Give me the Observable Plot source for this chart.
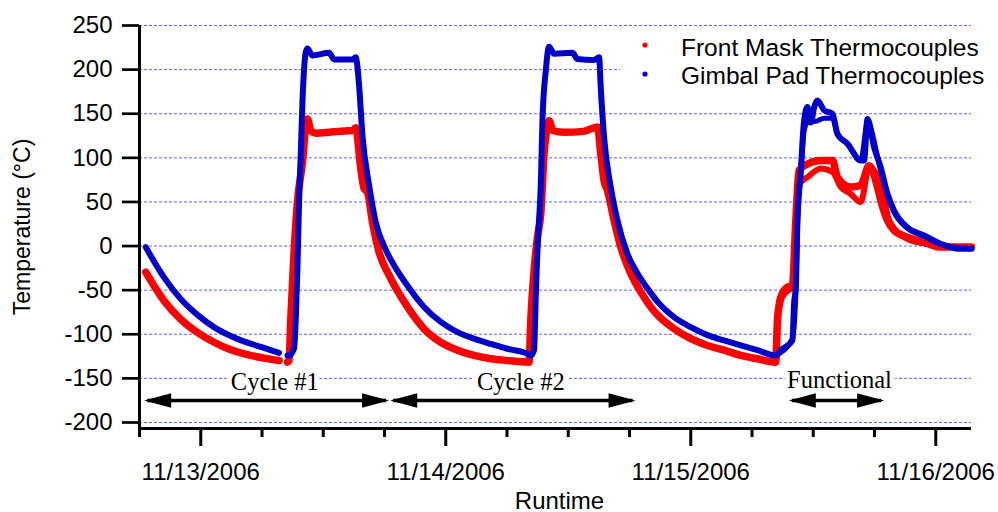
<!DOCTYPE html>
<html><head><meta charset="utf-8">
<script src="https://cdn.jsdelivr.net/npm/d3@7"></script>
<script src="https://cdn.jsdelivr.net/npm/@observablehq/plot@0.6"></script>
<style>
body{margin:0;background:#fff;}
#wrap{position:relative;width:998px;height:512px;overflow:hidden;}
#legend{position:absolute;left:620px;top:32px;}
</style></head><body>
<div id="wrap"></div>
<script>
// Hours since 11/13/2006 00:00, temperatures in °C (NaN = gap in record)
const frontA_hours = [-5.39,-3.60,-1.96,-0.32,1.30,2.94,4.57,6.20,7.67,8.0,8.49,8.65,8.82,9.14,9.47,9.96,10.29,10.45,10.78,11.27,12.57,13.5,14.86,15.18,15.67,16.0,16.33,16.82,17.47,18.44,20.25,21.87,23.51,25.15,26.77,28.41,30.04,32.16,32.33,32.65,32.98,33.31,33.63,33.96,34.12,34.5,35.59,37.5,38.86,39.18,39.51,39.84,40.49,41.14,42.12,43.10,44.08,44.74,46.37,48.0,49.63,51.26,52.90,54.53,56.33,56.49,56.82,57.47,57.96,58.29,58.61,59.43,60.73,61.88,62.37,63.67,64.65,65.47,66.29,66.61,67.27,67.92,69.23,70.86,72.49,75.5];
const frontA_temps = [-29.6,-62,-83,-98,-109,-117.5,-123,-127,-129.7,NaN,-131.6,-130,-82,-7,50,95,137,144,131,128,129,130,131,134,88,65,61,27,-7,-33,-69,-93.8,-109,-118,-124,-127.8,-129.7,-131.6,-84,-28,10,37,105,135,142,131,129,130,135,105,74,63,29,-1,-31,-52,-69,-78,-93.8,-105,-112.7,-118,-124,-127.8,-131.6,-84,-58,-46.6,-44.7,29,86,93,97,97,78,67,69,91,67,52,29,17.7,10,4.4,-1.2,-1];
const frontB_hours = [56.33,56.6,57.0,57.6,57.96,58.29,58.61,59.43,60.73,61.88,62.69,63.67,64.65,65.47,66.61,66.94,67.27,67.92,69.23,70.86,72.49,75.5];
const frontB_temps = [-131,-75,-57,-50,-47,20,70,78,88,84,67,59,50,89,71,55,35,20,8,3,-1,-1];
const gimbalA_hours = [-5.39,-3.60,-1.96,-0.32,1.30,2.94,4.57,6.20,7.67,8.0,8.49,8.65,9.14,9.31,9.47,9.63,9.80,9.96,10.29,10.45,10.94,12.57,13.06,14.86,15.18,15.51,15.84,16.49,17.14,18.12,19.10,20.25,21.87,23.51,25.15,26.77,28.41,30.04,32.0,32.33,32.65,32.82,32.98,33.14,33.31,33.47,33.80,34.12,34.61,36.41,36.90,38.53,39.02,39.18,39.51,40.16,40.82,41.80,42.78,44.08,44.74,46.37,48.0,49.63,51.26,52.90,54.53,56.33,56.82,57.96,58.12,58.29,58.45,58.78,59.10,59.43,59.76,60.1,60.41,61.06,61.88,62.37,63.35,64.65,64.98,65.31,65.96,66.61,67.27,67.92,69.23,70.86,72.49,74.13,75.5];
const gimbalA_temps = [-1.2,-35.5,-60,-78,-91.9,-102,-109.5,-115.5,-121,NaN,-124,-124,-116,-82,-26,50,106,163,220,224,216,219,211.6,211.6,214,182,125,69,27,-4,-25,-45,-69,-86,-97.6,-105,-111,-116.4,-122,-124,-118,-55,-5,29,70,142,199,226,218,219,212,211,214,180,123,67,29,-9,-31,-53,-63,-80.6,-92,-101,-107,-112.7,-118,-124,-118,-107,-65,-46.6,29,86,142,157.5,140,158,165,154,150,127,116,97,97,144,112,89,59,40,21,12,2.6,-3,-3];
const gimbalB_hours = [56.33,57.96,58.29,58.45,58.78,59.10,59.43,60.41,61.06,61.88,62.37,63.35,64.65,65.31,66.61,67.27,67.92,69.23,70.86,72.49,75.5];
const gimbalB_temps = [-124,-105,-55,20,80,130,140,142,145,145,127,116,97,140,85,57,38,20,11,2,-3];

const seriesNames = ["Front Mask Thermocouples", "Gimbal Pad Thermocouples"];
const seriesColors = ["#ff0000", "#0000c8"];
const yTicks = [-200,-150,-100,-50,0,50,100,150,200,250];
const phaseLabels = ["Cycle #1", "Cycle #2", "Functional"];
const phaseStart = [-5.25, 18.85, 57.9];
const phaseEnd = [18.15, 42.3, 66.65];
const phaseLabelHour = [7.25, 31.35, 62.57];
const phaseLabelTemp = [-163.5, -163.5, -160.5];
const phaseArrowTemp = -175;

const t0 = Date.UTC(2006, 10, 13);
const toTime = h => new Date(t0 + h * 3600000);
const rows = (hours, temps) => hours.map((h, i) => ({time: toTime(h), temp: temps[i]}));

const xDomain = [toTime(-6), toTime(75.5)];
const majorTicks = d3.utcDay.range(toTime(0), toTime(75.5));
const minorTicks = d3.utcHour.every(6).range(toTime(-6), toTime(75.5)).filter(d => d.getUTCHours() !== 0);

const phases = phaseLabels.map((l, i) => ({
  label: l, start: toTime(phaseStart[i]), end: toTime(phaseEnd[i]),
  lx: toTime(phaseLabelHour[i]), ly: phaseLabelTemp[i], y: phaseArrowTemp
}));

const headRight = {draw(ctx) { ctx.moveTo(3, 0); ctx.lineTo(-24, -7.2); ctx.lineTo(-24, 7.2); ctx.closePath(); }};
const headLeft = {draw(ctx) { ctx.moveTo(-3, 0); ctx.lineTo(24, -7.2); ctx.lineTo(24, 7.2); ctx.closePath(); }};

const lineOpts = (color, w) => ({x: "time", y: "temp", stroke: color, strokeWidth: w, curve: "monotone-x", strokeLinejoin: "round", strokeLinecap: "round"});

const chart = Plot.plot({
  width: 998, height: 512,
  marginLeft: 139, marginRight: 27, marginTop: 25, marginBottom: 84,
  style: {fontFamily: "'Liberation Sans', Arial, sans-serif", fontSize: "24px", color: "black", background: "white", overflow: "visible"},
  x: {type: "utc", domain: xDomain},
  y: {domain: [-206.8, 250]},
  marks: [
    Plot.ruleY(yTicks, {stroke: "#6262ff", strokeWidth: 1, strokeDasharray: "3,2"}),
    Plot.line(rows(frontA_hours, frontA_temps), lineOpts(seriesColors[0], 7.5)),
    Plot.line(rows(frontB_hours, frontB_temps), lineOpts(seriesColors[0], 6)),
    Plot.line(rows(gimbalA_hours, gimbalA_temps), lineOpts(seriesColors[1], 6)),
    Plot.line(rows(gimbalB_hours, gimbalB_temps), lineOpts(seriesColors[1], 5)),
    Plot.text(phases, {x: "lx", y: "ly", text: "label", lineAnchor: "bottom", textAnchor: "middle",
      fontFamily: "'Liberation Serif', 'Times New Roman', serif", fontSize: 24.5, fill: "black", stroke: "white", strokeWidth: 10, paintOrder: "stroke"}),
    Plot.link(phases, {x1: "start", x2: "end", y1: "y", y2: "y", stroke: "black", strokeWidth: 3.5}),
    Plot.dot(phases, {x: "end", y: "y", symbol: headRight, fill: "black", r: 5}),
    Plot.dot(phases, {x: "start", y: "y", symbol: headLeft, fill: "black", r: 5}),
    Plot.axisY({ticks: yTicks, tickSize: 17, tickPadding: 10, strokeWidth: 2.7, fontSize: 24, tickFormat: d => String(d), label: null}),
    Plot.axisX({ticks: minorTicks, tickSize: 9, strokeWidth: 3, tickFormat: () => "", label: null}),
    Plot.axisX({ticks: majorTicks, tickSize: 18, tickPadding: 16, strokeWidth: 3, fontSize: 24, tickFormat: d3.utcFormat("%m/%d/%Y"), label: null}),
    Plot.ruleX([xDomain[0]], {stroke: "black", strokeWidth: 3}),
    Plot.ruleY([-206.8], {stroke: "black", strokeWidth: 3}),
    Plot.text(["Temperature (°C)"], {text: d => d, frameAnchor: "left", rotate: -90, dx: -110, lineAnchor: "bottom", textAnchor: "middle", fontSize: 23}),
    Plot.text(["Runtime"], {text: d => d, frameAnchor: "bottom", dx: 4, dy: 80, lineAnchor: "bottom", textAnchor: "middle", fontSize: 24})
  ]
});

const wrap = document.getElementById("wrap");
wrap.appendChild(chart);

// legend overlay
const lg = d3.create("svg").attr("id", "legend").attr("width", 376).attr("height", 64)
  .style("font-family", "'Liberation Sans', Arial, sans-serif");
lg.append("rect").attr("width", 376).attr("height", 64).attr("fill", "white");
seriesNames.forEach((name, i) => {
  lg.append("circle").attr("cx", 25).attr("cy", 13 + i * 29).attr("r", 2.6).attr("fill", seriesColors[i]);
  lg.append("text").attr("x", 61).attr("y", 24 + i * 28).attr("font-size", 24.5).attr("fill", "black").text(name);
});
wrap.appendChild(lg.node());
</script></body></html>
